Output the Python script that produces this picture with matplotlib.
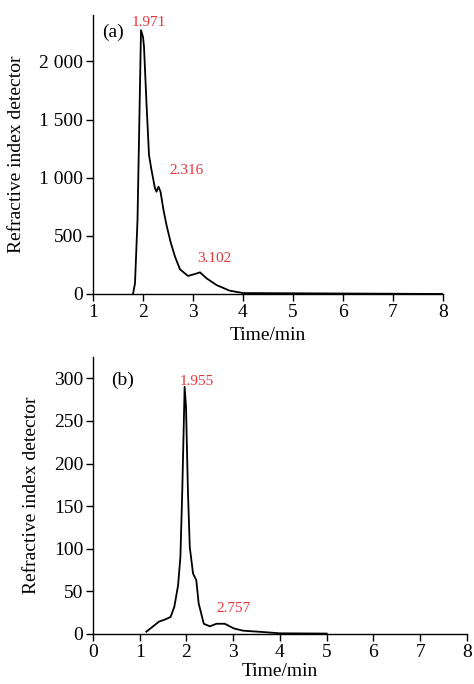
import matplotlib.pyplot as plt
from matplotlib.ticker import FuncFormatter

plt.rcParams['font.family'] = ['Liberation Serif', 'DejaVu Serif']

# chromatogram (a)
time_a = [1.80, 1.84, 1.89, 1.92, 1.96, 2.00, 2.02, 2.07, 2.12, 2.17, 2.24, 2.27, 2.31,
          2.35, 2.41, 2.47, 2.55, 2.64, 2.74, 2.90, 3.04, 3.14, 3.27, 3.47, 3.73, 4.00,
          5.00, 6.00, 7.00, 8.00]
signal_a = [0, 92, 636, 1324, 2269, 2212, 2126, 1639, 1195, 1066, 908, 880, 923,
            880, 722, 593, 450, 321, 212, 155, 172, 186, 135, 77, 29, 8,
            6, 4, 2, 0]
peaks_a = ['1.971', '2.316', '3.102']
peak_pos_a = [(2.12, 2337), (2.88, 1060), (3.42, 307)]

# chromatogram (b)
time_b = [1.14, 1.25, 1.41, 1.54, 1.66, 1.74, 1.82, 1.87, 1.91, 1.96, 1.99, 2.03, 2.07,
          2.14, 2.21, 2.26, 2.37, 2.50, 2.64, 2.82, 3.01, 3.21, 3.64, 4.00, 5.00]
signal_b = [2.7, 7.4, 14.5, 17, 20, 32, 57, 91, 169, 290, 266, 169, 102,
            71, 63, 36, 12, 9, 12, 12, 6.6, 3.9, 2.3, 0.8, 0.5]
peaks_b = ['1.955', '2.757']
peak_pos_b = [(2.21, 296), (3.00, 30)]

red = '#e8343c'
fs = 14

fig = plt.figure(figsize=(4.74, 6.84), dpi=100)
ax1 = fig.add_axes([0.1962, 0.5702, 0.7384, 0.4079])
ax2 = fig.add_axes([0.1962, 0.0731, 0.789, 0.405])


def space_thousands(v, pos):
    return f'{int(v):,}'.replace(',', ' ')


def style(ax):
    for s in ['top', 'right']:
        ax.spines[s].set_visible(False)
    for s in ['left', 'bottom']:
        ax.spines[s].set_linewidth(1.0)
    ax.tick_params(direction='out', length=5, width=1.0, labelsize=fs, pad=2)


ax1.plot(time_a, signal_a, color='black', lw=1.3)
ax1.set_xlim(1, 8)
ax1.set_ylim(0, 2400)
ax1.set_xticks(range(1, 9))
ax1.set_yticks([0, 500, 1000, 1500, 2000])
ax1.yaxis.set_major_formatter(FuncFormatter(space_thousands))
style(ax1)
ax1.set_xlabel('Time/min', fontsize=fs)
ax1.xaxis.set_label_coords(0.5, -0.12)
ax1.set_ylabel('Refractive index detector', fontsize=fs)
ax1.yaxis.set_label_coords(-0.194, 0.5)
ax1.text(1.41, 2249, '(a)', fontsize=fs, ha='center', va='center')
for lab, (x, y) in zip(peaks_a, peak_pos_a):
    ax1.text(x, y, lab, color=red, fontsize=11, ha='center', va='center', clip_on=False)

ax2.plot(time_b, signal_b, color='black', lw=1.3)
ax2.set_xlim(0, 8)
ax2.set_ylim(0, 325)
ax2.set_xticks(range(0, 9))
ax2.set_yticks([0, 50, 100, 150, 200, 250, 300])
style(ax2)
ax2.set_xlabel('Time/min', fontsize=fs)
ax2.xaxis.set_label_coords(0.5, -0.105)
ax2.set_ylabel('Refractive index detector', fontsize=fs)
ax2.yaxis.set_label_coords(-0.142, 0.5)
ax2.text(0.63, 298, '(b)', fontsize=fs, ha='center', va='center')
for lab, (x, y) in zip(peaks_b, peak_pos_b):
    ax2.text(x, y, lab, color=red, fontsize=11, ha='center', va='center', clip_on=False)

fig.savefig('out.png', dpi=100)
